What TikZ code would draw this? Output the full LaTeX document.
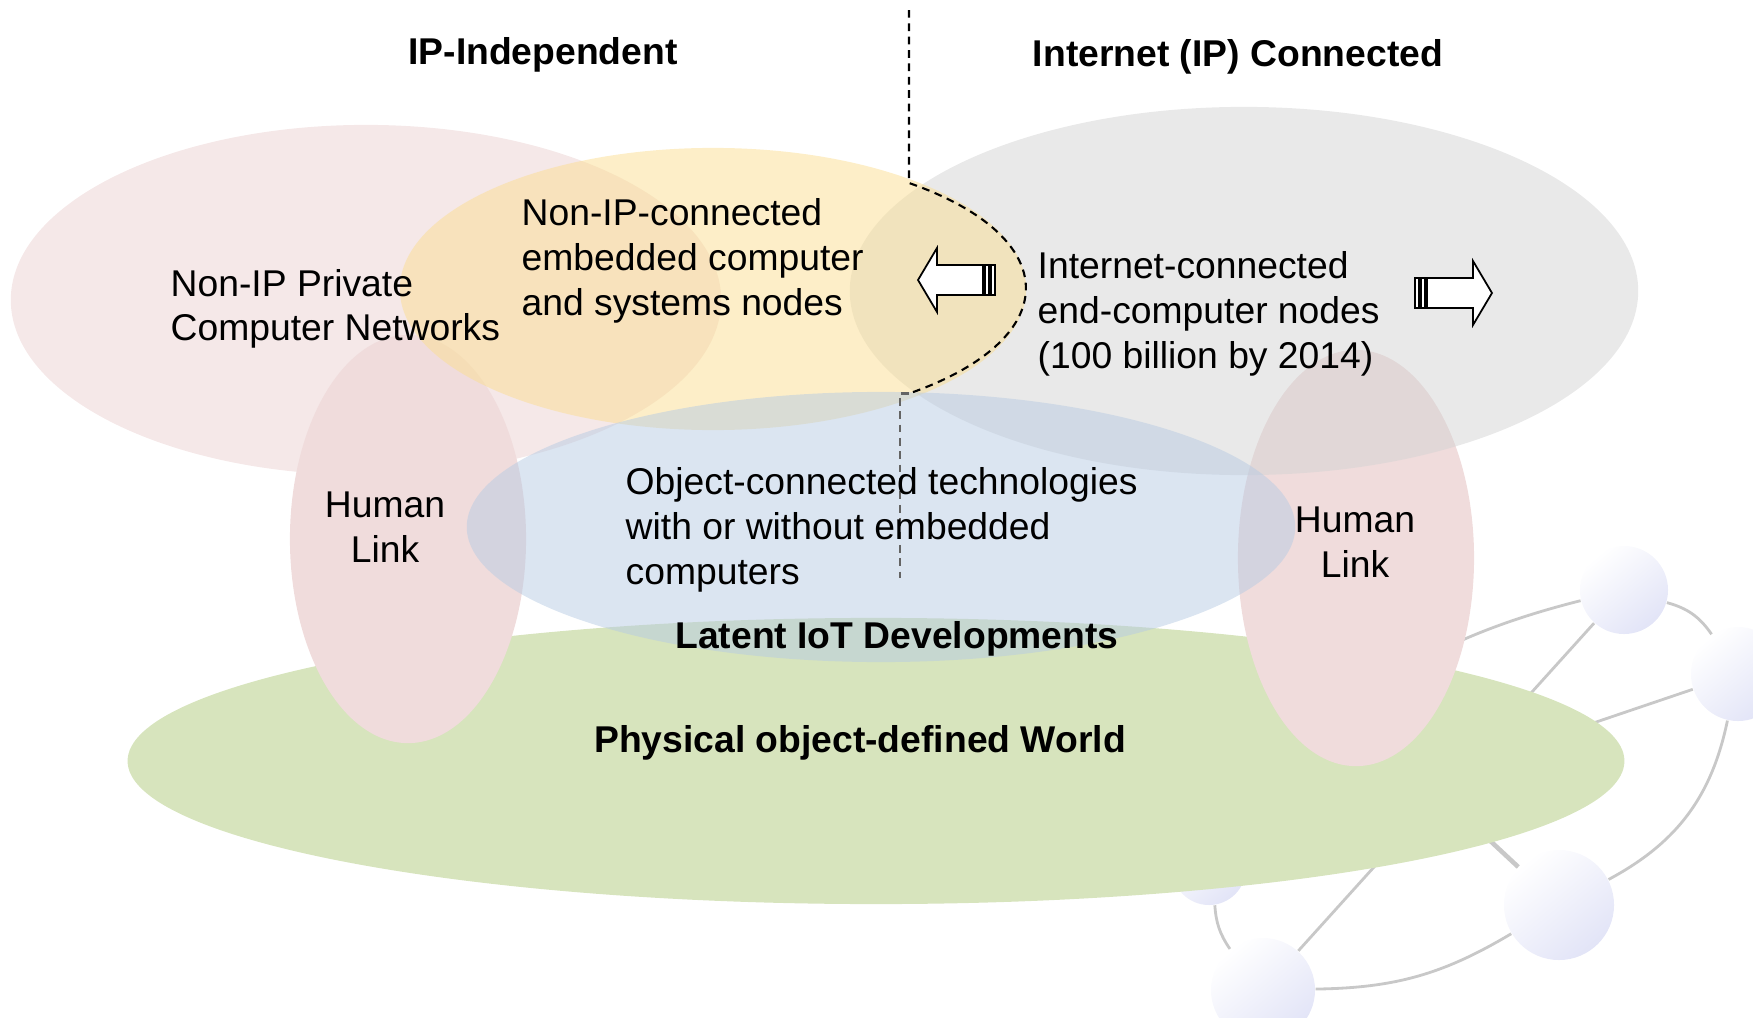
\documentclass[tikz,border=0pt]{standalone}
\usepackage{fontspec}
\setmainfont{Liberation Sans}

\definecolor{netpink}{RGB}{245,232,232}
\definecolor{linkpink}{RGB}{240,220,220}
\definecolor{worldgreen}{RGB}{215,228,189}
\definecolor{ipgray}{RGB}{211,211,211}
\definecolor{embyellow}{RGB}{251,222,145}
\definecolor{objblue}{RGB}{183,203,227}
\definecolor{wiregray}{RGB}{200,200,200}
\definecolor{balllav}{RGB}{226,228,247}
\definecolor{dashgray}{RGB}{100,100,100}

\begin{document}
\begin{tikzpicture}[
    x=0.01cm, y=-0.01cm,
    txt/.style={font=\fontsize{10.6}{12.7}\selectfont, inner sep=0pt, align=left},
    head/.style={font=\fontsize{10.6}{12.7}\selectfont\bfseries, inner sep=0pt},
    seethru/.style={fill opacity=0.5},
    wire/.style={draw=wiregray, line width=0.8pt},
    ball/.style={circle, inner sep=0pt, top color=white, bottom color=balllav, shading angle=40},
    divider/.style={dash pattern=on 2.2pt off 1.6pt, line width=0.6pt},
    fatarrow/.pic={
        \draw[fill=white, line width=0.5pt] (0,0) -- (19,-32) -- (19,-15) -- (65,-15)
            -- (65,15) -- (19,15) -- (19,32) -- cycle;
        \draw[fill=white, line width=0.5pt] (67,-15) rectangle (71,15);
        \draw[fill=white, line width=0.5pt] (73,-15) rectangle (77,15);
    }
]
\useasboundingbox (0,0) rectangle (1753,1018);
\clip (0,0) rectangle (1753,1018);

% Network in the background
\node[ball, minimum size=0.88cm] (nA) at (1624,590) {};
\node[ball, minimum size=0.94cm] (nB) at (1738,674) {};
\node[ball, minimum size=1.10cm] (nC) at (1559,905) {};
\node[ball, minimum size=1.04cm] (nD) at (1263,990) {};
\node[ball, minimum size=0.74cm] (nE) at (1209,868) {};
\coordinate (hub) at (1425,780);

\draw[wire] (nA) to[bend left=20] (nB);
\draw[wire] (nB) to[bend left=25] (nC);
\draw[wire] (nC) to[bend left=15] (nD);
\draw[wire] (nE) to[bend right=15] (nD);
\draw[wire] (nE) to[bend left=20] (nA);
\draw[wire] (nA) -- (nD);
\draw[wire] (nB) -- (hub);
\draw[wire, line width=1.3pt] (nC) -- (hub);

% Areas
\fill[netpink] (366,300) ellipse [x radius=3.55cm, y radius=1.75cm];
\fill[worldgreen] (876,761) ellipse [x radius=7.48cm, y radius=1.43cm];
\fill[linkpink] (408,539) ellipse [x radius=1.18cm, y radius=2.04cm];
\fill[linkpink] (1356,558) ellipse [x radius=1.18cm, y radius=2.08cm];
\fill[ipgray, seethru] (1244,291) ellipse [x radius=3.94cm, y radius=1.84cm];
\fill[embyellow, seethru] (713,289) ellipse [x radius=3.13cm, y radius=1.41cm];
\fill[objblue, seethru] (881,527) ellipse [x radius=4.14cm, y radius=1.35cm];

% Dividing line
\coordinate (divtop) at (909,10);
\coordinate (divknee) at (909,183);
\draw[divider] (divtop) -- (divknee)
    arc[start angle=51.2, end angle=-51.2, x radius=3.13cm, y radius=1.35cm] coordinate (divfoot);
\draw[divider, draw=dashgray] (divfoot) -- ++(-9,0) -- (900,578);

% Arrows
\pic at (918,280) {fatarrow};
\pic[xscale=-1] at (1492,293) {fatarrow};

% Titles
\node[head] (ipfree) at (543,55) {IP-Independent};
\node[head] (ipconn) at (1238,57) {Internet (IP) Connected};

% Texts
\node[txt, anchor=west] (privnet) at (170,309) {Non-IP Private\\Computer Networks};
\node[txt, anchor=west] (embnodes) at (521,261) {Non-IP-connected\\embedded computer\\and systems nodes};
\node[txt, anchor=west] (endnodes) at (1037,314) {Internet-connected\\end-computer nodes\\(100 billion by 2014)};
\node[txt, align=center] (humanL) at (385,527) {Human\\Link};
\node[txt, align=center] (humanR) at (1355,542) {Human\\Link};
\node[txt, anchor=west] (objtech) at (625,530) {Object-connected technologies\\with or without embedded\\computers};
\node[head] (latent) at (897,639) {Latent IoT Developments};
\node[head] (world) at (860,743) {Physical object-defined World};

\end{tikzpicture}
\end{document}
